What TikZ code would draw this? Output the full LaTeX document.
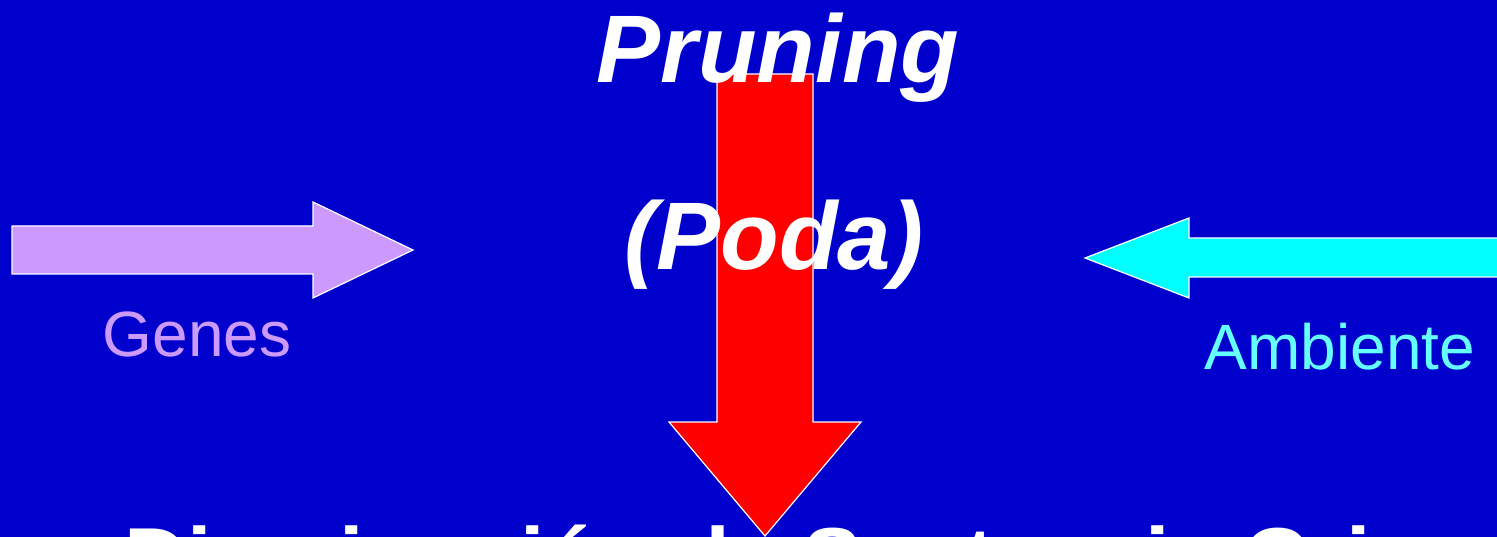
\documentclass[tikz,border=0pt]{standalone}
\usepackage{fontspec}
\setmainfont{Liberation Sans}
\definecolor{bgblue}{HTML}{0000CC}
\definecolor{lav}{HTML}{CC99FF}
\definecolor{cyanarrow}{HTML}{00FFFF}
\definecolor{cyantext}{HTML}{66FFFF}
\tikzset{
  blockarrow/.style={draw=white, line width=1.2pt, line join=miter},
  bigtitle/.style={text=white, font=\fontsize{96}{96}\selectfont\bfseries\itshape, inner sep=0pt, anchor=base},
  label/.style={font=\fontsize{64}{64}\selectfont, inner sep=0pt, anchor=base},
}
\begin{document}
\begin{tikzpicture}[x=1pt,y=-1pt]
\useasboundingbox (0,0) rectangle (1497,537);
\clip (0,0) rectangle (1497,537);
\fill[bgblue] (0,0) rectangle (1497,537);
% arrows
\draw[blockarrow, fill=red] (717,74) -- (813,74) -- (813,422) -- (861,422) -- (765,536) -- (669,422) -- (717,422) -- cycle;
\draw[blockarrow, fill=lav] (12,226) -- (313,226) -- (313,202) -- (413,250) -- (313,298) -- (313,274) -- (12,274) -- cycle;
\draw[blockarrow, fill=cyanarrow] (1085,258) -- (1189,218) -- (1189,238) -- (1505,238) -- (1505,277) -- (1189,277) -- (1189,298) -- cycle;
% texts
\node[bigtitle] (pruning) at (778,83) {Pruning};
\node[bigtitle] (poda) at (774,270) {(Poda)};
\node[label, text=lav] (genes) at (197,356) {Genes};
\node[label, text=cyantext] (ambiente) at (1340,370) {Ambiente};
\node[text=white, font=\fontsize{88}{88}\selectfont\bfseries, inner sep=0pt, anchor=base] (dism) at (772,589) {Disminución de Sustancia Gris};
\end{tikzpicture}
\end{document}
